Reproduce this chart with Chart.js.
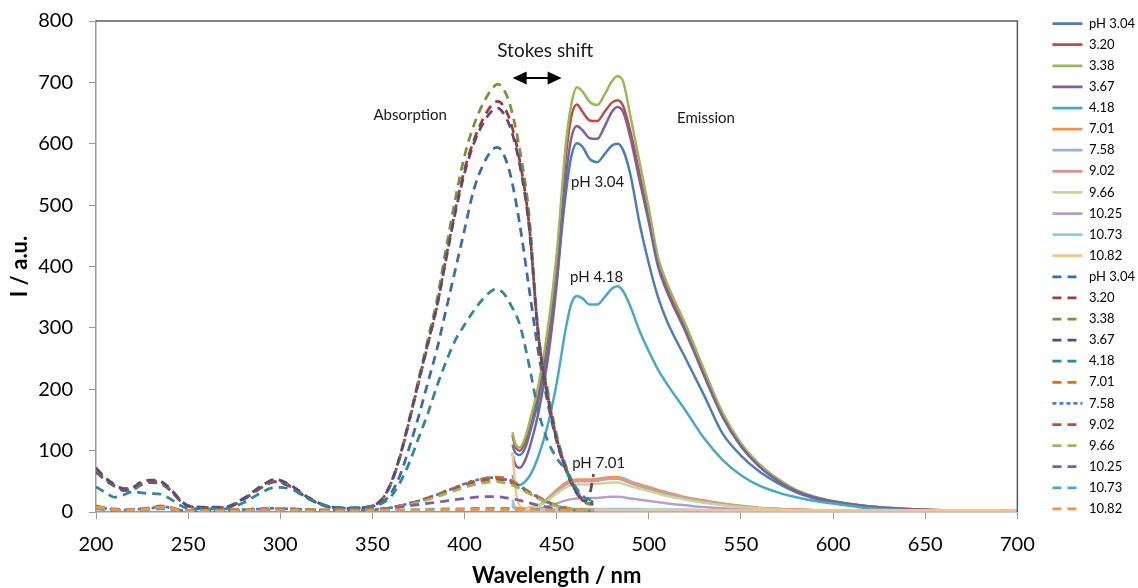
<!DOCTYPE html>
<html>
<head>
<meta charset="utf-8">
<script src="https://cdn.jsdelivr.net/npm/chart.js@4"></script>
<style>
  html, body { margin: 0; padding: 0; background: #fff; }
</style>
</head>
<body>
<canvas id="myChart" width="1138" height="588"></canvas>
<script>
//Wavelength grids (nm) for the absorption (dashed) and emission (solid) spectra.
const absNm = [
  200, 205, 210, 215, 220, 225, 230, 235, 240, 245,
  250, 260, 270, 280, 290, 297, 305, 315, 325, 335,
  345, 355, 360, 365, 370, 375, 380, 385, 390, 395,
  400, 405, 410, 415, 418, 421, 425, 430, 435, 440,
  445, 450, 455, 460, 465, 468, 470
];
const emNm = [
  426, 427, 428, 430, 433, 436, 440, 445, 450, 455,
  458, 461, 464, 468, 472, 476, 480, 483, 486, 490,
  495, 500, 505, 510, 520, 530, 540, 550, 560, 570,
  580, 590, 600, 620, 640, 660, 680, 700
];

//pH labels shown in the legend.
const phLabels = ["pH 3.04", "3.20", "3.38", "3.67", "4.18", "7.01", "7.58", "9.02", "9.66", "10.25", "10.73", "10.82"];

//Emission intensities, one array per pH.
const em304 = [110, 100, 95, 93, 105, 135, 180, 262, 380, 520, 580, 601, 595, 575, 570, 583, 597, 600, 590, 550, 470, 405, 350, 310, 250, 190, 128, 92, 66, 47, 32, 22, 15, 8, 4, 2, 1, 1];
const em320 = [125, 112, 104, 100, 115, 148, 195, 285, 410, 580, 645, 664, 652, 638, 637, 652, 667, 671, 662, 620, 550, 478, 410, 365, 297, 225, 157, 108, 75, 52, 35, 24, 17, 9, 5, 3, 2, 1];
const em338 = [130, 117, 108, 105, 122, 155, 205, 295, 420, 600, 665, 692, 685, 668, 663, 680, 702, 710, 702, 645, 570, 495, 415, 372, 305, 232, 162, 112, 78, 54, 36, 25, 18, 9, 5, 3, 2, 1];
const em367 = [95, 82, 75, 72, 85, 112, 160, 245, 370, 545, 610, 629, 622, 609, 608, 628, 652, 660, 652, 610, 540, 472, 400, 358, 293, 222, 155, 107, 74, 51, 34, 24, 17, 9, 5, 3, 2, 1];
const em418 = [60, 52, 47, 44, 50, 62, 90, 140, 210, 300, 340, 352, 348, 338, 338, 350, 364, 368, 360, 335, 295, 262, 232, 208, 165, 120, 85, 60, 43, 32, 24, 18, 14, 6, 3, 2, 1, 1];
const em701 = [15, 9, 7, 6, 6, 8, 10, 22, 36, 48, 52, 53, 53, 53, 54, 56, 57, 57, 55, 50, 45, 41, 36, 32, 24, 19, 14, 10, 7, 5, 4, 3, 2, 2, 1, 1, 1, 1];
const em758 = [13, 8, 6, 5, 5, 7, 10, 21, 34, 46, 50, 51, 51, 51, 52, 54, 55, 55, 53, 48, 43, 39, 34, 30, 23, 18, 13, 9, 6, 5, 4, 3, 2, 2, 1, 1, 1, 1];
const em902 = [12, 8, 6, 5, 5, 7, 10, 20, 33, 45, 49, 50, 50, 50, 51, 53, 54, 54, 52, 47, 42, 38, 33, 29, 22, 17, 13, 9, 6, 5, 4, 3, 2, 2, 1, 1, 1, 1];
const em966 = [12, 8, 6, 5, 5, 7, 9, 18, 30, 40, 44, 45, 45, 45, 46, 47, 48, 48, 46, 42, 38, 34, 30, 26, 20, 15, 11, 8, 6, 4, 3, 3, 2, 2, 1, 1, 1, 1];
const em1025 = [10, 6, 4, 3, 3, 4, 5, 9, 14, 19, 21, 22, 22, 23, 23, 24, 25, 25, 24, 22, 20, 18, 16, 14, 11, 8, 6, 4, 3, 2, 2, 2, 1, 1, 1, 1, 1, 1];
const em1073 = [20, 10, 6, 4, 3, 3, 3, 4, 4, 5, 5, 5, 5, 5, 5, 5, 5, 5, 5, 5, 5, 4, 4, 4, 4, 3, 3, 3, 3, 3, 2, 2, 2, 2, 2, 2, 2, 2];
const em1082 = [98, 60, 30, 10, 5, 4, 3, 3, 3, 3, 3, 3, 3, 3, 3, 3, 3, 3, 3, 3, 3, 3, 3, 3, 3, 3, 3, 3, 3, 3, 3, 3, 3, 3, 3, 3, 3, 3];

//Absorption intensities, one array per pH.
const abs304 = [65, 52, 42, 35, 36, 45, 48, 46, 36, 20, 9, 7, 7, 20, 40, 49, 42, 22, 9, 6, 7, 15, 30, 60, 105, 155, 210, 265, 330, 395, 460, 525, 565, 590, 594, 584, 548, 468, 365, 262, 180, 115, 68, 35, 16, 14, 20];
const abs320 = [68, 54, 43, 37, 38, 47, 50, 48, 37, 21, 10, 7, 7, 21, 41, 50, 43, 23, 10, 6, 7, 20, 46, 90, 148, 210, 272, 335, 415, 492, 558, 605, 640, 664, 669, 662, 635, 572, 470, 290, 193, 120, 72, 38, 17, 13, 13];
const abs338 = [70, 55, 44, 38, 38, 48, 51, 49, 38, 22, 10, 7, 8, 22, 42, 52, 44, 24, 10, 6, 7, 20, 45, 90, 150, 215, 280, 345, 430, 510, 580, 630, 665, 690, 697, 690, 660, 590, 485, 295, 200, 125, 75, 40, 18, 13, 14];
const abs367 = [72, 56, 45, 38, 40, 50, 52, 50, 39, 22, 10, 8, 8, 22, 43, 53, 45, 24, 10, 6, 7, 20, 47, 92, 150, 212, 274, 335, 412, 488, 552, 600, 633, 654, 658, 650, 625, 565, 465, 288, 190, 118, 70, 36, 18, 30, 62];
const abs418 = [41, 32, 24, 28, 33, 31, 30, 29, 22, 12, 6, 5, 5, 15, 32, 40, 38, 22, 10, 7, 7, 14, 25, 48, 80, 120, 160, 205, 245, 280, 305, 328, 347, 361, 363, 357, 338, 305, 240, 165, 117, 88, 68, 42, 24, 20, 20];
const abs701 = [10, 7, 5, 4, 4, 5, 7, 10, 8, 4, 2, 2, 3, 4, 5, 6, 5, 4, 3, 3, 3, 5, 7, 10, 14, 18, 23, 28, 34, 40, 45, 50, 54, 57, 57, 56, 52, 43, 33, 25, 17, 11, 7, 4, 3, 3, 3];
const abs758 = [9, 6, 4, 3, 4, 5, 6, 9, 7, 3, 2, 2, 3, 4, 5, 6, 5, 4, 3, 3, 3, 5, 7, 10, 14, 18, 23, 28, 34, 40, 46, 51, 54, 56, 55, 54, 50, 42, 32, 24, 16, 10, 6, 4, 3, 3, 3];
const abs902 = [9, 6, 4, 3, 4, 5, 6, 9, 7, 3, 2, 2, 3, 4, 5, 6, 5, 4, 3, 3, 3, 5, 7, 10, 13, 17, 22, 27, 33, 38, 43, 48, 51, 53, 53, 52, 48, 40, 31, 23, 15, 10, 6, 4, 3, 3, 3];
const abs966 = [8, 6, 4, 3, 4, 5, 6, 8, 7, 3, 2, 2, 3, 4, 5, 6, 5, 4, 3, 3, 3, 4, 6, 9, 12, 16, 20, 25, 30, 35, 40, 44, 47, 49, 49, 48, 45, 38, 30, 22, 15, 10, 6, 4, 3, 3, 3];
const abs1025 = [6, 4, 3, 3, 3, 4, 5, 6, 5, 3, 2, 2, 2, 3, 4, 4, 4, 3, 2, 2, 2, 4, 6, 8, 10, 12, 14, 16, 18, 20, 22, 24, 25, 25, 25, 24, 22, 19, 15, 11, 8, 5, 4, 3, 2, 2, 2];
const abs1073 = [5, 4, 3, 3, 3, 3, 4, 5, 4, 2, 2, 2, 2, 2, 3, 3, 3, 2, 2, 2, 2, 2, 3, 3, 4, 4, 4, 5, 5, 5, 5, 6, 6, 6, 6, 6, 6, 5, 5, 4, 4, 3, 3, 2, 2, 2, 2];
const abs1082 = [8, 6, 4, 3, 3, 4, 5, 8, 6, 3, 2, 2, 2, 2, 3, 3, 3, 2, 2, 2, 2, 3, 3, 3, 3, 3, 3, 3, 4, 4, 4, 4, 4, 4, 4, 4, 4, 4, 4, 3, 3, 3, 3, 3, 3, 3, 3];

const emSeries = [em304, em320, em338, em367, em418, em701, em758, em902, em966, em1025, em1073, em1082];
const absSeries = [abs304, abs320, abs338, abs367, abs418, abs701, abs758, abs902, abs966, abs1025, abs1073, abs1082];

//Line colours for solid (emission) and dashed (absorption) lines.
const emColors = ["#4A7EBB", "#BE4B48", "#98B954", "#7D60A0", "#46AAC5", "#F69240", "#95B3D7", "#D99694", "#C3D69B", "#B3A2C7", "#93CDDD", "#FAC090"];
const absColors = ["#3A6BAA", "#A33A37", "#77933C", "#5F497A", "#31859C", "#E46C0A", "#4A7EBB", "#BE4B48", "#98B954", "#7D60A0", "#46AAC5", "#F69240"];

//Text placed inside the plot (data units).
const notes = [
  { text: "Absorption", x: 370.5, y: 647, size: 15 },
  { text: "Emission", x: 531, y: 642, size: 15 },
  { text: "Stokes shift", x: 443.8, y: 752, size: 19 },
  { text: "pH 3.04", x: 472.2, y: 537, size: 15 },
  { text: "pH 4.18", x: 471.7, y: 383, size: 15 },
  { text: "pH 7.01", x: 472.8, y: 80, size: 15 }
];
const arrowFrom = 426.1;
const arrowTo = 452.7;
const arrowLevel = 707;

const fontFamily = "Lato, 'Open Sans', sans-serif";

function toPoints(xs, ys) {
  return xs.map((x, i) => ({ x: x, y: ys[i] }));
}

let datasets = [];
emSeries.forEach((vals, i) => {
  datasets.push({
    label: phLabels[i],
    data: toPoints(emNm, vals),
    borderColor: emColors[i],
    borderWidth: 2.5,
    borderDash: []
  });
});
absSeries.forEach((vals, i) => {
  datasets.push({
    label: phLabels[i],
    data: toPoints(absNm, vals),
    borderColor: absColors[i],
    borderWidth: 2.75,
    borderDash: i === 6 ? [4, 3] : [9, 6]
  });
});

//Later series sit on top, like the original.
datasets.forEach((ds, i) => {
  ds.order = datasets.length - i;
  ds.pointRadius = 0;
  ds.pointStyle = "line";
  ds.fill = false;
  ds.cubicInterpolationMode = "monotone";
});

//Move the legend to the right spot once the layout is known.
const legendShift = {
  id: "legendShift",
  afterLayout(chart) {
    chart.legend.left = chart.chartArea.right + 27;
    chart.legend.right = chart.width;
    chart.legend.top -= 12;
  }
};

//Draw the notes, the Stokes shift arrow and the plot frame.
const notesPlugin = {
  id: "notes",
  afterDatasetsDraw(chart) {
    const ctx = chart.ctx;
    const xs = chart.scales.x;
    const ys = chart.scales.y;
    const area = chart.chartArea;

    ctx.save();
    ctx.strokeStyle = "#595959";
    ctx.lineWidth = 1.5;
    ctx.beginPath();
    ctx.moveTo(area.left, area.top);
    ctx.lineTo(area.right, area.top);
    ctx.lineTo(area.right, area.bottom);
    ctx.stroke();

    ctx.fillStyle = "#1a1a1a";
    ctx.textAlign = "center";
    ctx.textBaseline = "middle";
    notes.forEach(n => {
      ctx.font = n.size + "px " + fontFamily;
      ctx.fillText(n.text, xs.getPixelForValue(n.x), ys.getPixelForValue(n.y));
    });

    const x1 = xs.getPixelForValue(arrowFrom);
    const x2 = xs.getPixelForValue(arrowTo);
    const y = ys.getPixelForValue(arrowLevel);
    ctx.strokeStyle = "#000";
    ctx.fillStyle = "#000";
    ctx.lineWidth = 2;
    ctx.beginPath();
    ctx.moveTo(x1 + 8, y);
    ctx.lineTo(x2 - 8, y);
    ctx.stroke();
    ctx.beginPath();
    ctx.moveTo(x1, y);
    ctx.lineTo(x1 + 14, y - 6.5);
    ctx.lineTo(x1 + 14, y + 6.5);
    ctx.closePath();
    ctx.fill();
    ctx.beginPath();
    ctx.moveTo(x2, y);
    ctx.lineTo(x2 - 14, y - 6.5);
    ctx.lineTo(x2 - 14, y + 6.5);
    ctx.closePath();
    ctx.fill();
    ctx.restore();
  }
};

let ctx = document.getElementById("myChart").getContext("2d");
let myChart = new Chart(ctx, {
  type: "line",
  data: { datasets },
  options: {
    responsive: false,
    animation: false,
    devicePixelRatio: 1,
    layout: { padding: { top: 21, right: 20, left: 0, bottom: 0 } },
    plugins: {
      tooltip: { enabled: false },
      legend: {
        position: "right",
        align: "start",
        labels: {
          usePointStyle: true,
          pointStyleWidth: 30,
          boxHeight: 13,
          padding: 8.1,
          color: "#000",
          font: { family: fontFamily, size: 13 },
          generateLabels: chart => chart.data.datasets.map((ds, i) => ({
            text: ds.label,
            strokeStyle: ds.borderColor,
            fillStyle: ds.borderColor,
            lineWidth: 2.75,
            lineDash: ds.borderDash,
            pointStyle: "line",
            hidden: false,
            datasetIndex: i,
            fontColor: "#000"
          }))
        }
      }
    },
    scales: {
      x: {
        type: "linear",
        min: 200,
        max: 700,
        afterFit: scale => { scale.height = 76; },
        ticks: {
          stepSize: 50,
          color: "#000",
          padding: 14,
          font: { family: fontFamily, size: 20 }
        },
        grid: { drawOnChartArea: false, drawTicks: true, tickLength: 7, color: "#9a9a9a" },
        border: { color: "#9a9a9a", width: 1.5 },
        title: {
          display: true,
          text: "Wavelength / nm",
          color: "#000",
          padding: { top: 0, bottom: -1 },
          font: { family: fontFamily, size: 22, weight: "bold" }
        }
      },
      y: {
        min: 0,
        max: 800,
        afterFit: scale => {
          scale.width = 96;
          scale.paddingTop = 0;
          scale.paddingBottom = 0;
        },
        ticks: {
          stepSize: 100,
          color: "#000",
          padding: 16,
          font: { family: fontFamily, size: 20 }
        },
        grid: { drawOnChartArea: false, drawTicks: true, tickLength: 7, color: "#9a9a9a" },
        border: { color: "#9a9a9a", width: 1.5 },
        title: {
          display: true,
          text: "I / a.u.",
          color: "#000",
          padding: { top: 7, bottom: 0 },
          font: { family: fontFamily, size: 22, weight: "bold" }
        }
      }
    }
  },
  plugins: [legendShift, notesPlugin]
});
</script>
</body>
</html>
